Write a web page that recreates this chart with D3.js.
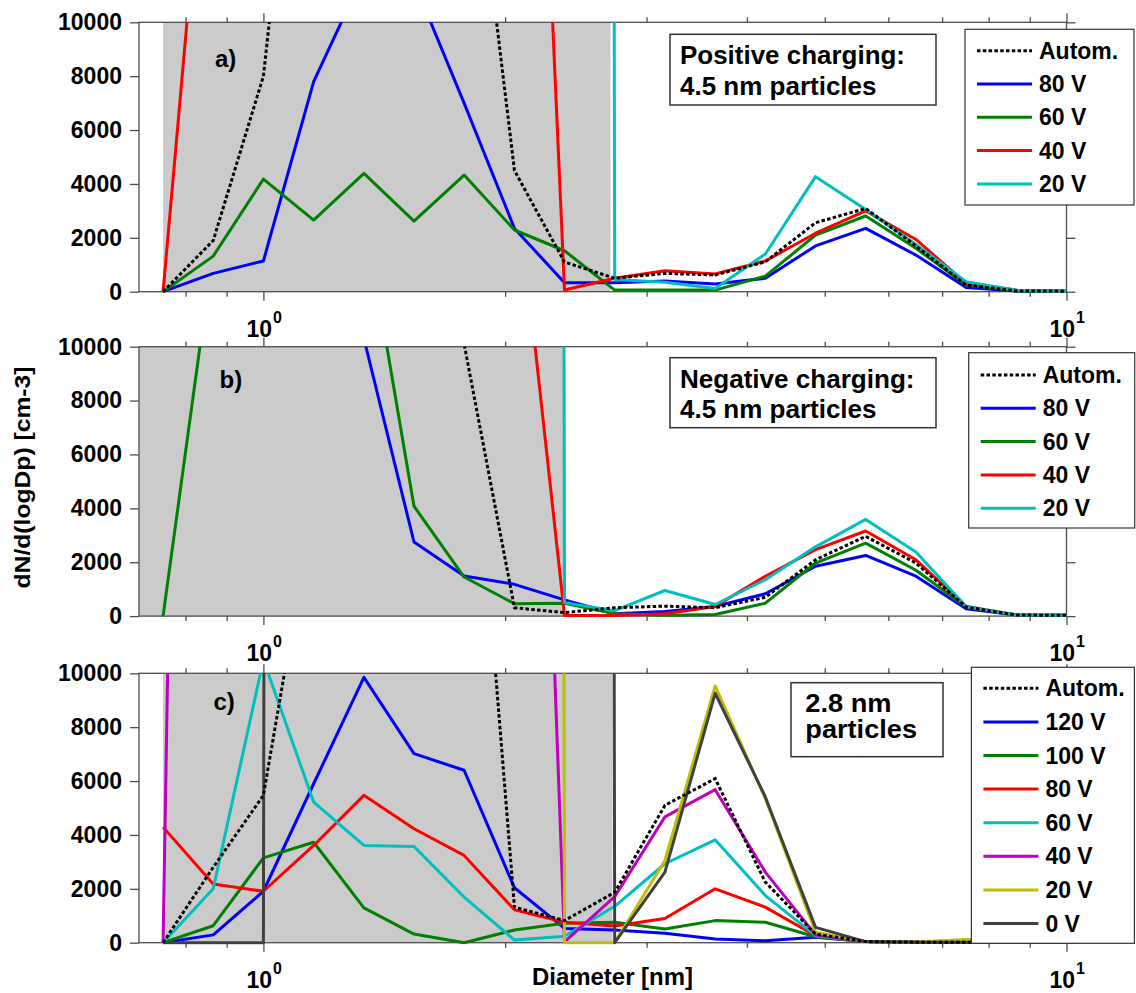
<!DOCTYPE html>
<html>
<head>
<meta charset="utf-8">
<script src="https://cdn.jsdelivr.net/npm/d3@7"></script>
<style>
  body { margin: 0; background: #fff; }
  svg { display: block; }
</style>
</head>
<body>
<div id="chart"></div>
<script>
// bin diameters [nm]
var diameter = [0.750, 0.866, 1.000, 1.155, 1.334, 1.540, 1.778, 2.054, 2.371, 2.738,
                3.162, 3.652, 4.217, 4.870, 5.623, 6.494, 7.499, 8.660, 10.00];

// a) positive charging, 4.5 nm particles
var posAutom = [0, 1900, 8000, 25000, 30000, 28000, 20000, 4500, 1100, 500, 680, 620, 1110, 2560, 3090, 1700, 250, 30, 20];
var pos80 = [0, 680, 1140, 7800, 11800, 11500, 7000, 2350, 330, 330, 400, 290, 500, 1700, 2350, 1360, 160, 30, 20];
var pos60 = [0, 1320, 4180, 2660, 4390, 2620, 4330, 2290, 1520, 60, 60, 60, 580, 2100, 2810, 1610, 250, 30, 20];
var pos40 = [0, 21000, 50000, 50000, 50000, 50000, 50000, 42000, 60, 500, 780, 660, 1140, 2170, 3000, 1940, 310, 60, 20];
var pos20 = [1000000, 1000000, 1000000, 1000000, 1000000, 1000000, 1000000, 1000000, 1000000, 450, 350, 120, 1400, 4270, 3050, 1750, 370, 50, 20];

// b) negative charging, 4.5 nm particles
var negAutom = [50000, 50000, 50000, 50000, 50000, 50000, 10100, 310, 130, 310, 370, 310, 700, 2090, 2960, 1970, 340, 40, 30];
var neg80 = [50000, 50000, 50000, 50000, 10300, 2750, 1490, 1180, 600, 90, 170, 360, 830, 1850, 2250, 1480, 270, 40, 30];
var neg60 = [0, 13600, 50000, 50000, 15000, 4080, 1450, 460, 480, 90, 30, 60, 480, 1970, 2710, 1700, 340, 40, 30];
var neg40 = [50000, 50000, 50000, 50000, 50000, 50000, 50000, 17000, 25, 25, 90, 360, 1480, 2470, 3160, 2090, 360, 40, 30];
var neg20 = [1000000, 1000000, 1000000, 1000000, 1000000, 1000000, 1000000, 1000000, 500, 200, 950, 430, 1350, 2570, 3590, 2380, 360, 40, 30];

// c) 2.8 nm particles
var smlAutom = [0, 2800, 5470, 16300, 40000, 40000, 24500, 1320, 820, 1870, 5100, 6090, 2250, 320, 40, 20, 20, 20, 20];
var sml120 = [0, 290, 1910, 5900, 9850, 7020, 6400, 2040, 530, 470, 350, 140, 70, 200, 40, 20, 20, 20, 20];
var sml100 = [0, 630, 3150, 3730, 1290, 320, 0, 470, 720, 760, 510, 820, 760, 220, 40, 20, 20, 20, 20];
var sml80 = [4290, 2180, 1910, 3610, 5470, 4230, 3240, 1220, 760, 620, 900, 2000, 1320, 260, 40, 20, 20, 20, 20];
var sml60 = [0, 2000, 10500, 5220, 3610, 3570, 1690, 100, 240, 1350, 2930, 3820, 1750, 260, 40, 20, 20, 20, 20];
var sml40 = [0, 110000, 50000, 50000, 50000, 50000, 50000, 51000, 30, 1710, 4670, 5680, 2620, 290, 40, 20, 20, 20, 20];
var sml20 = [1000000, 1000000, 1000000, 1000000, 1000000, 1000000, 1000000, 1000000, 0, 0, 3050, 9530, 5350, 390, 40, 30, 120, 120, 120];
var sml0 = [0, 0, 0, 1000000, 1000000, 1000000, 1000000, 1000000, 1000000, 0, 2620, 9260, 5410, 570, 40, 20, 20, 20, 20];

// shaded diameter ranges
var shadeA = [0.75, 2.705];
var shadeB = [0.70, 2.361];
var shadeC = [0.75, 2.72];

var namesA = ["Autom.", "80 V", "60 V", "40 V", "20 V"];
var namesC = ["Autom.", "120 V", "100 V", "80 V", "60 V", "40 V", "20 V", "0 V"];
var boxA = ["Positive charging:", "4.5 nm particles"];
var boxB = ["Negative charging:", "4.5 nm particles"];
var boxC = ["2.8 nm", "particles"];

var yTicks = [0, 2000, 4000, 6000, 8000, 10000];
var xMajor = [1, 10];
var xMajorExp = ["0", "1"];
var xMinor = [0.8, 0.9, 2, 3, 4, 5, 6, 7, 8, 9];

// styles
var FONT = "'Liberation Sans', Arial, Helvetica, sans-serif";
var axisCol = "#4d4d4d";
var cBlue = "#0000ff", cGreen = "#008000", cRed = "#ff0000", cCyan = "#00bfbf",
    cMag = "#bf00bf", cYel = "#bfbf00", cGray = "#404040";

var ph = 269.4; // panel height
var panels = [
  {top: 22.3, letter: "a)", lx: 215, ly: 67, shade: shadeA,
   series: [[pos80, cBlue], [pos60, cGreen], [pos40, cRed], [pos20, cCyan]], autom: posAutom,
   names: namesA, colors: [cBlue, cGreen, cRed, cCyan],
   leg: {x: 965, y: 29.3, w: 169, h: 175.7, r0: 21.4, dr: 33.3},
   box: {x: 670, y: 34.3, w: 266, h: 70.7, tx: 680, base: [64, 95], len: [225, 196.5], lines: boxA}},
  {top: 346.7, letter: "b)", lx: 219.5, ly: 388, shade: shadeB,
   series: [[neg80, cBlue], [neg60, cGreen], [neg40, cRed], [neg20, cCyan]], autom: negAutom,
   names: namesA, colors: [cBlue, cGreen, cRed, cCyan],
   leg: {x: 968.7, y: 352.7, w: 166, h: 175.3, r0: 22.3, dr: 33.3},
   box: {x: 670, y: 357.7, w: 266, h: 70, tx: 680, base: [388.3, 418.3], len: [234.5, 196.5], lines: boxB}},
  {top: 673.3, letter: "c)", lx: 213.5, ly: 710, shade: shadeC,
   series: [[sml120, cBlue], [sml100, cGreen], [sml80, cRed], [sml60, cCyan], [sml40, cMag], [sml20, cYel], [sml0, cGray]],
   autom: smlAutom,
   names: namesC, colors: [cBlue, cGreen, cRed, cCyan, cMag, cYel, cGray],
   leg: {x: 971.4, y: 667.3, w: 163, h: 276, r0: 21, dr: 33.6},
   box: {x: 791, y: 682.7, w: 152, h: 74, tx: 805.3, base: [711.7, 737.5], len: [86.3, 111.7], lines: boxC}}
];

var svg = d3.select("#chart").append("svg")
  .attr("width", 1136)
  .attr("height", 993)
  .style("background", "#fff")
  .attr("font-family", FONT)
  .attr("font-weight", "bold");

var x = d3.scaleLog().domain([0.7, 10]).range([139, 1066.5]);
var xl = x.range()[0], xr = x.range()[1];

function styleTicks(g) {
  g.select(".domain").remove();
  g.selectAll("line").attr("stroke", axisCol).attr("stroke-width", 1.3);
}

function drawPanel(p, k) {
  var y = d3.scaleLinear().domain([0, 10000]).range([p.top + ph, p.top]);
  var g = svg.append("g");

  // grey shading
  g.append("rect")
    .attr("x", x(p.shade[0]))
    .attr("y", p.top)
    .attr("width", x(p.shade[1]) - x(p.shade[0]))
    .attr("height", ph)
    .attr("fill", "#cbcbcb");

  // frame
  g.append("rect")
    .attr("x", xl).attr("y", p.top)
    .attr("width", xr - xl).attr("height", ph)
    .attr("fill", "none")
    .attr("stroke", axisCol)
    .attr("stroke-width", 1.3);

  // ticks
  g.append("g").attr("transform", "translate(" + xl + ",0)")
    .call(d3.axisLeft(y).tickValues(yTicks).tickSize(9).tickPadding(8).tickSizeOuter(0).tickFormat(d3.format("d")))
    .call(styleTicks)
    .attr("font-family", FONT).attr("font-size", 23).attr("font-weight", "bold")
    .selectAll("text").attr("fill", "#000");
  g.append("g").attr("transform", "translate(" + xr + ",0)")
    .call(d3.axisRight(y).tickValues(yTicks).tickSize(9).tickSizeOuter(0).tickFormat(""))
    .call(styleTicks);
  [[d3.axisBottom, p.top + ph], [d3.axisTop, p.top]].forEach(function(a) {
    g.append("g").attr("transform", "translate(0," + a[1] + ")")
      .call(a[0](x).tickValues(xMajor).tickSize(9).tickSizeOuter(0).tickFormat(""))
      .call(styleTicks);
    g.append("g").attr("transform", "translate(0," + a[1] + ")")
      .call(a[0](x).tickValues(xMinor).tickSize(5).tickSizeOuter(0).tickFormat(""))
      .call(styleTicks);
  });

  // 10^n labels
  xMajor.forEach(function(v, i) {
    var t = g.append("text")
      .attr("x", x(v) - 17)
      .attr("y", p.top + ph + 45)
      .attr("font-size", 23)
      .text("10");
    t.append("tspan")
      .attr("dx", 1)
      .attr("dy", -14)
      .attr("font-size", 16)
      .text(xMajorExp[i]);
  });

  // data
  svg.append("clipPath").attr("id", "clip" + k)
    .append("rect")
    .attr("x", xl - 2).attr("y", p.top)
    .attr("width", xr - xl + 4).attr("height", ph + 2);

  var line = d3.line()
    .x(function(d, i) { return x(diameter[i]); })
    .y(function(d) { return y(d); });

  var dg = g.append("g").attr("clip-path", "url(#clip" + k + ")");
  p.series.forEach(function(s) {
    dg.append("path")
      .attr("d", line(s[0]))
      .attr("fill", "none")
      .attr("stroke", s[1])
      .attr("stroke-width", 3)
      .attr("stroke-linejoin", "round");
  });
  dg.append("path")
    .attr("d", line(p.autom))
    .attr("fill", "none")
    .attr("stroke", "#000")
    .attr("stroke-width", 3)
    .attr("stroke-dasharray", "3.5,2.3");

  // panel letter
  g.append("text")
    .attr("x", p.lx).attr("y", p.ly)
    .attr("font-size", 24)
    .text(p.letter);

  // text box
  var b = p.box;
  g.append("rect")
    .attr("x", b.x).attr("y", b.y).attr("width", b.w).attr("height", b.h)
    .attr("fill", "#fff").attr("stroke", "#333").attr("stroke-width", 1.5);
  b.lines.forEach(function(s, i) {
    g.append("text")
      .attr("x", b.tx).attr("y", b.base[i])
      .attr("font-size", 25)
      .attr("textLength", b.len[i])
      .attr("lengthAdjust", "spacingAndGlyphs")
      .text(s);
  });

  // legend
  var L = p.leg;
  g.append("rect")
    .attr("x", L.x).attr("y", L.y).attr("width", L.w).attr("height", L.h)
    .attr("fill", "#fff").attr("stroke", "#333").attr("stroke-width", 1.2);
  p.names.forEach(function(n, i) {
    var ry = L.y + L.r0 + i * L.dr;
    var ln = g.append("line")
      .attr("x1", L.x + 12).attr("x2", L.x + 67)
      .attr("y1", ry).attr("y2", ry)
      .attr("stroke-width", 3);
    if (i === 0) {
      ln.attr("stroke", "#000").attr("stroke-dasharray", "3.5,2.3");
    } else {
      ln.attr("stroke", p.colors[i - 1]);
    }
    g.append("text")
      .attr("x", L.x + 74).attr("y", ry + 8)
      .attr("font-size", 23)
      .text(n);
  });
}

panels.forEach(drawPanel);

// axis titles
svg.append("text")
  .attr("x", 612.5).attr("y", 985)
  .attr("text-anchor", "middle")
  .attr("font-size", 23)
  .attr("textLength", 161)
  .attr("lengthAdjust", "spacingAndGlyphs")
  .text("Diameter [nm]");

svg.append("text")
  .attr("transform", "translate(30,477.5) rotate(-90)")
  .attr("text-anchor", "middle")
  .attr("font-size", 22)
  .attr("textLength", 222)
  .attr("lengthAdjust", "spacingAndGlyphs")
  .text("dN/d(logDp) [cm-3]");
</script>
</body>
</html>
